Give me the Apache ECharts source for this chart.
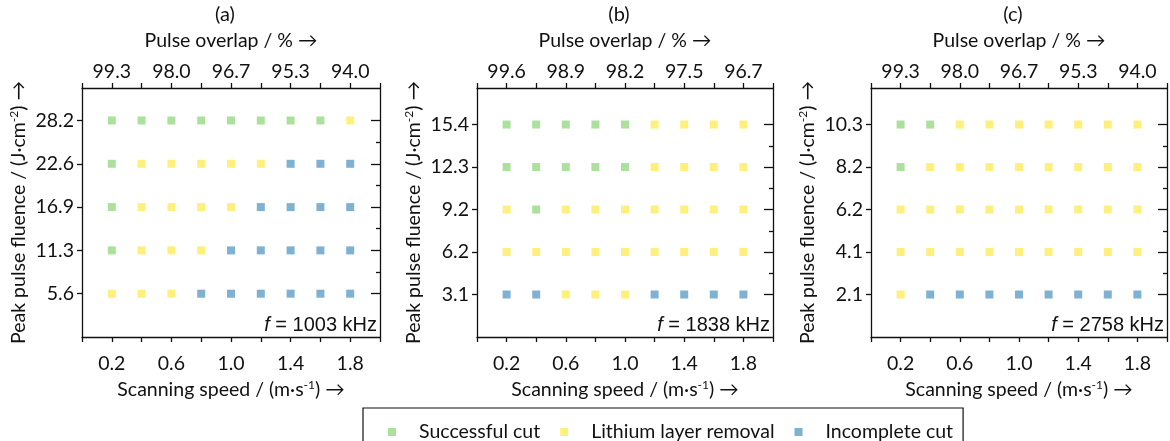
<!DOCTYPE html>
<html lang="en">
<head>
<meta charset="UTF-8">
<title>Laser cut results</title>
<script src="https://cdn.jsdelivr.net/npm/echarts@6/dist/echarts.min.js"></script>
<style>
  html, body { margin: 0; padding: 0; background: #fff; }
  #chart { width: 1170px; height: 441px; }
</style>
</head>
<body>
<div id="chart"></div>
<script>
// scanning speed positions and labelled ticks
var speeds = [0.2, 0.4, 0.6, 0.8, 1.0, 1.2, 1.4, 1.6, 1.8];
var speedTicks = [0.2, 0.6, 1.0, 1.4, 1.8];

// top axis (pulse overlap) labels, one set per panel
var overlapA = ['99.3', '98.0', '96.7', '95.3', '94.0'];
var overlapB = ['99.6', '98.9', '98.2', '97.5', '96.7'];
var overlapC = ['99.3', '98.0', '96.7', '95.3', '94.0'];

// fluence levels, lowest first
var fluenceA = ['5.6', '11.3', '16.9', '22.6', '28.2'];
var fluenceB = ['3.1', '6.2', '9.2', '12.3', '15.4'];
var fluenceC = ['2.1', '4.1', '6.2', '8.2', '10.3'];

// 0 = successful cut, 1 = lithium layer removal, 2 = incomplete cut
// rows from lowest fluence up, columns by speed
var resultA = [
  [1, 1, 1, 2, 2, 2, 2, 2, 2],
  [0, 1, 1, 1, 2, 2, 2, 2, 2],
  [0, 1, 1, 1, 1, 2, 2, 2, 2],
  [0, 1, 1, 1, 1, 1, 2, 2, 2],
  [0, 0, 0, 0, 0, 0, 0, 0, 1]
];
var resultB = [
  [2, 2, 1, 1, 1, 2, 2, 2, 2],
  [1, 1, 1, 1, 1, 1, 1, 1, 1],
  [1, 0, 1, 1, 1, 1, 1, 1, 1],
  [0, 0, 0, 0, 0, 1, 1, 1, 1],
  [0, 0, 0, 0, 0, 1, 1, 1, 1]
];
var resultC = [
  [1, 2, 2, 2, 2, 2, 2, 2, 2],
  [1, 1, 1, 1, 1, 1, 1, 1, 1],
  [1, 1, 1, 1, 1, 1, 1, 1, 1],
  [0, 1, 1, 1, 1, 1, 1, 1, 1],
  [0, 0, 1, 1, 1, 1, 1, 1, 1]
];

var levelTicks = [1, 2, 3, 4, 5];
var halfTicks = [1.5, 2.5, 3.5, 4.5];

var freqs = ['1003', '1838', '2758'];
var panelTags = ['(a)', '(b)', '(c)'];
var outcomeNames = ['Successful cut', 'Lithium layer removal', 'Incomplete cut'];
var outcomeColors = ['#97da84', '#ffeb5b', '#5e9dc7'];

var panels = [
  { overlap: overlapA, fluence: fluenceA, result: resultA, left: 82, width: 298, yMax: 5.75 },
  { overlap: overlapB, fluence: fluenceB, result: resultB, left: 477, width: 296, yMax: 5.86 },
  { overlap: overlapC, fluence: fluenceC, result: resultC, left: 871, width: 296, yMax: 5.86 }
];

var FONT = 'Lato';
var FS = 19.5;
var INK = '#111111';
var gridTop = 88, gridH = 249;
var lineStyle = { color: INK, width: 1.3 };
var supStyle = { fontFamily: FONT, fontSize: 12, color: INK, padding: [0, 0, 10, 0] };

var grids = [], xAxes = [], yAxes = [], series = [], graphics = [];
var extraGrids = [], extraX = [], extraY = [];

// thin helper grid sitting on a panel's right edge; its left axis ticks point
// outward (leftwards), i.e. into the panel
function edgeTicks(p, values, len) {
  var gi = 3 + extraGrids.length;
  extraGrids.push({ left: p.left + p.width, top: gridTop, width: 1, height: gridH,
    containLabel: false, outerBoundsMode: 'none' });
  extraX.push({ gridIndex: gi, type: 'value', min: 0, max: 1, show: false });
  extraY.push({
    gridIndex: gi, type: 'value', position: 'left', min: 0, max: p.yMax, interval: 1,
    axisLine: { show: false, onZero: false },
    axisTick: { show: true, inside: false, length: len, customValues: values, lineStyle: lineStyle },
    axisLabel: { show: false },
    splitLine: { show: false }
  });
}

panels.forEach(function (p, k) {
  grids.push({ left: p.left, top: gridTop, width: p.width, height: gridH,
    containLabel: false, outerBoundsMode: 'none' });

  // bottom: scanning speed
  xAxes.push({
    gridIndex: k, type: 'value', position: 'bottom', min: 0, max: 2, interval: 0.2,
    name: 'Scanning speed / (m·s{sup|-1}) →', nameLocation: 'middle', nameGap: 37,
    nameTextStyle: { fontFamily: FONT, fontSize: FS, color: INK, rich: { sup: supStyle } },
    axisLine: { show: true, onZero: false, lineStyle: lineStyle },
    axisTick: { show: true, inside: false, length: 5, lineStyle: lineStyle },
    axisLabel: { customValues: speedTicks, margin: 17, fontFamily: FONT, fontSize: FS, color: INK,
      formatter: function (v) { return v.toFixed(1); } },
    splitLine: { show: false }
  });
  // top: pulse overlap
  xAxes.push({
    gridIndex: k, type: 'value', position: 'top', min: 0, max: 2, interval: 0.2,
    name: 'Pulse overlap / % →', nameLocation: 'middle', nameGap: 37,
    nameTextStyle: { fontFamily: FONT, fontSize: FS, color: INK },
    axisLine: { show: true, onZero: false, lineStyle: lineStyle },
    axisTick: { show: true, inside: false, length: 5, lineStyle: lineStyle },
    axisLabel: { customValues: speedTicks, margin: 6, fontFamily: FONT, fontSize: FS, color: INK,
      formatter: function (v) { return p.overlap[Math.round((v - 0.2) / 0.4)]; } },
    splitLine: { show: false }
  });
  // left: fluence
  yAxes.push({
    gridIndex: k, type: 'value', position: 'left', min: 0, max: p.yMax, interval: 1,
    name: 'Peak pulse fluence / (J·cm{sup|-2}) →', nameLocation: 'middle', nameGap: 52,
    nameTextStyle: { fontFamily: FONT, fontSize: FS, color: INK, rich: { sup: supStyle } },
    axisLine: { show: true, onZero: false, lineStyle: lineStyle },
    axisTick: { show: true, inside: false, length: 5, customValues: levelTicks, lineStyle: lineStyle },
    axisLabel: { customValues: levelTicks, margin: 8, fontFamily: FONT, fontSize: FS, color: INK,
      formatter: function (v) { return p.fluence[Math.round(v) - 1]; } },
    splitLine: { show: false }
  });
  // right: frame line
  yAxes.push({
    gridIndex: k, type: 'value', position: 'right', min: 0, max: p.yMax, interval: 1,
    axisLine: { show: true, onZero: false, lineStyle: lineStyle },
    axisTick: { show: false },
    axisLabel: { show: false },
    splitLine: { show: false }
  });

  outcomeNames.forEach(function (name, o) {
    var pts = [];
    p.result.forEach(function (row, r) {
      row.forEach(function (code, c) {
        if (code === o) pts.push([speeds[c], r + 1]);
      });
    });
    series.push({
      name: name, type: 'scatter', xAxisIndex: k * 2, yAxisIndex: k * 2,
      symbol: 'rect', symbolSize: 8, itemStyle: { color: outcomeColors[o] },
      data: pts
    });
  });

  graphics.push({
    type: 'text', x: p.left + p.width / 2 - 6, y: 15,
    style: { text: panelTags[k], align: 'center', verticalAlign: 'middle',
      fontFamily: FONT, fontSize: 20, fill: INK }
  });
  graphics.push({
    type: 'text', x: p.left + p.width - 3, y: 325,
    style: { text: '{i|f} = ' + freqs[k] + ' kHz', align: 'right', verticalAlign: 'middle',
      fontFamily: 'Liberation Sans', fontSize: 20, fill: INK,
      rich: { i: { fontStyle: 'italic', fontFamily: 'Liberation Sans', fontSize: 20, fill: INK } } }
  });
});

panels.forEach(function (p) {
  edgeTicks(p, levelTicks, 9);
  edgeTicks(p, halfTicks, 4);
});

var chart = echarts.init(document.getElementById('chart'), null, { renderer: 'canvas' });
chart.setOption({
  animation: false,
  backgroundColor: '#ffffff',
  grid: grids.concat(extraGrids),
  xAxis: xAxes.concat(extraX),
  yAxis: yAxes.concat(extraY),
  series: series,
  graphic: graphics,
  legend: {
    data: outcomeNames,
    left: 363, top: 408,
    orient: 'horizontal',
    itemWidth: 8, itemHeight: 8, itemGap: 20,
    padding: [14, 10, 10, 25],
    borderColor: INK, borderWidth: 1.2,
    textStyle: { fontFamily: FONT, fontSize: FS, color: INK, padding: [0, 0, 0, 18] }
  }
});
</script>
</body>
</html>
